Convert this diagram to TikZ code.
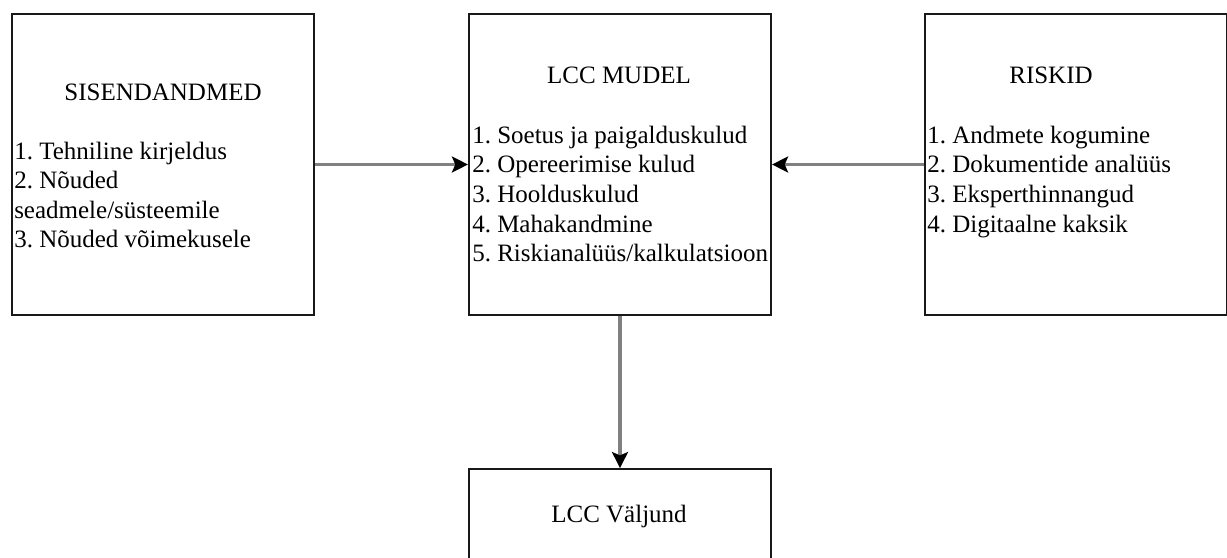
\documentclass[tikz,border=0pt]{standalone}
\usepackage{fontspec}
\setmainfont{Liberation Serif}
\usetikzlibrary{positioning,arrows.meta}

\tikzset{
    blokk/.style={draw=black!90, line width=1.6pt, minimum width=226.5pt, minimum height=225.75pt, inner sep=0pt},
    nool/.style={draw=black!50, line width=2.6pt, -{Stealth[black, length=12pt, width=12pt, inset=2.5pt]}},
    pealkiri/.style={font=\fontsize{18.75}{22}\selectfont, inner sep=0pt, anchor=base},
    loend/.style={font=\fontsize{18.75}{22}\selectfont, inner sep=0pt, anchor=base west},
}

\begin{document}
\frenchspacing
\begin{tikzpicture}[x=0.75pt, y=-0.75pt]
    \useasboundingbox (0,0) rectangle (1227,557);
    \clip (0,0) rectangle (1227,557);

    \node[blokk] (mudel) at (620,164.5) {};
    \node[blokk, left=114.75pt of mudel] (sisend) {};
    \node[blokk, right=114pt of mudel] (riskid) {};
    \node[blokk, below=114pt of mudel, minimum height=67.5pt] (valjund) {};

    % pealkirjad
    \node[pealkiri] (sisend-p) at (163,100) {SISENDANDMED};
    \node[pealkiri] (mudel-p) at (619,83) {LCC MUDEL};
    \node[pealkiri] (riskid-p) at (1051,83) {RISKID};
    \node[pealkiri] (valjund-p) at (619,522) {LCC Väljund};

    % loendid
    \foreach \rida [count=\i] in {1. Tehniline kirjeldus, 2. Nõuded, seadmele/süsteemile, 3. Nõuded võimekusele}
        \node[loend] (sisend-\i) at (14,{159+29.5*(\i-1)}) {\rida};
    \foreach \rida [count=\i] in {1. Soetus ja paigalduskulud, 2. Opereerimise kulud, 3. Hoolduskulud, 4. Mahakandmine, 5. Riskianalüüs/kalkulatsioon}
        \node[loend] (mudel-\i) at (472,{143+29.7*(\i-1)}) {\rida};
    \foreach \rida [count=\i] in {1. Andmete kogumine, 2. Dokumentide analüüs, 3. Eksperthinnangud, 4. Digitaalne kaksik}
        \node[loend] (riskid-\i) at (927,{143+29.7*(\i-1)}) {\rida};

    \draw[nool] (sisend) -- (mudel);
    \draw[nool] (riskid) -- (mudel);
    \draw[nool] (mudel) -- (valjund);
\end{tikzpicture}
\end{document}
